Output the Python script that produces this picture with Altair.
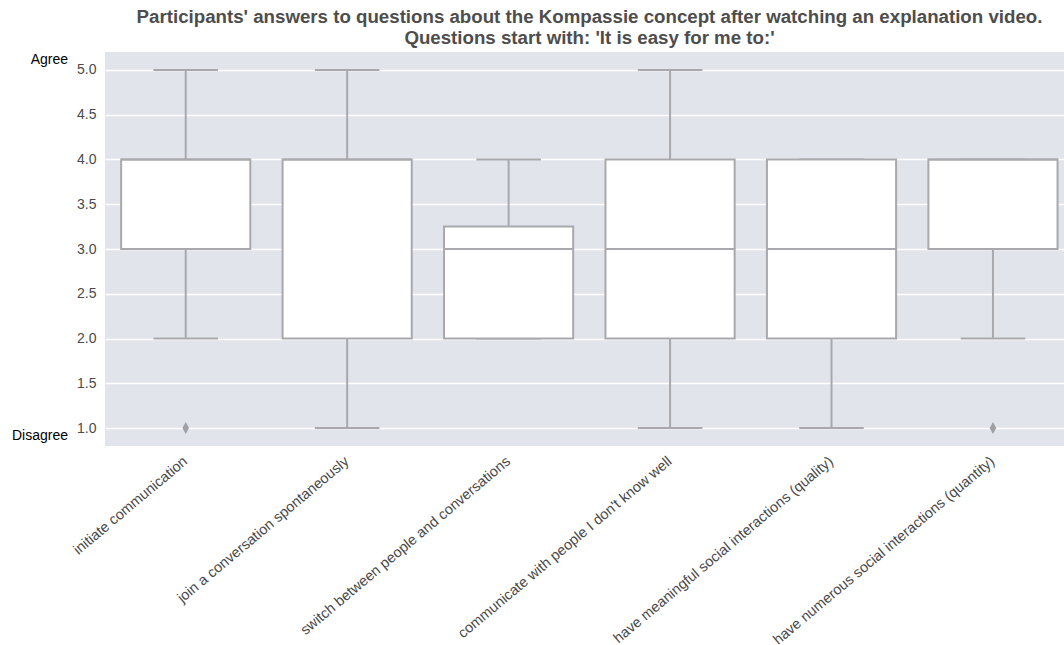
import altair as alt
import pandas as pd

# Questions (x categories)
categories = [
    "initiate communication",
    "join a conversation spontaneously",
    "switch between people and conversations",
    "communicate with people I don't know well",
    "have meaningful social interactions (quality)",
    "have numerous social interactions (quantity)",
]

# Box-plot summary per question (Likert 1-5)
q1 = [3.0, 2.0, 2.0, 2.0, 2.0, 3.0]
median = [4.0, 4.0, 3.0, 3.0, 3.0, 4.0]
q3 = [4.0, 4.0, 3.25, 4.0, 4.0, 4.0]
whisker_low = [2.0, 1.0, 2.0, 1.0, 1.0, 2.0]
whisker_high = [5.0, 5.0, 4.0, 5.0, 4.0, 4.0]

# Flier points: question index and value
outlier_question = [0, 5]
outlier_value = [1.0, 1.0]

y_ticks = [1.0, 1.5, 2.0, 2.5, 3.0, 3.5, 4.0, 4.5, 5.0]

BOX_HALF = 0.4
CAP_HALF = 0.2
LINE = "#a9a9ad"
FONT = "Liberation Sans"
TICK_COLOR = "#4a4a4a"

idx = list(range(len(categories)))
stats = pd.DataFrame({
    "i": idx,
    "question": categories,
    "q1": q1,
    "median": median,
    "q3": q3,
    "lo": whisker_low,
    "hi": whisker_high,
})
stats["box_l"] = stats["i"] - BOX_HALF
stats["box_r"] = stats["i"] + BOX_HALF
stats["cap_l"] = stats["i"] - CAP_HALF
stats["cap_r"] = stats["i"] + CAP_HALF

fliers = pd.DataFrame({"i": outlier_question, "value": outlier_value})
agree = pd.DataFrame({"label": ["Agree"], "value": [5.0]})
disagree = pd.DataFrame({"label": ["Disagree"], "value": [1.0]})

label_array = "[" + ",".join("'" + c.replace("'", "\\'") + "'" for c in categories) + "]"

x_scale = alt.Scale(domain=[-0.5, 5.44], nice=False, zero=False)
y_scale = alt.Scale(domain=[0.8, 5.2], nice=False, zero=False)

x_axis = alt.Axis(
    values=idx, labelExpr=label_array + "[datum.value]", title=None,
    labelAngle=-40, labelAlign="right", labelBaseline="top", labelPadding=8,
    labelOffset=-5, ticks=False, domain=False, grid=False, labelFontSize=14.5,
    labelColor=TICK_COLOR, labelFont=FONT, labelOverlap=False, labelLimit=0,
)
y_axis = alt.Axis(
    values=y_ticks, format=".1f", title=None, ticks=False, domain=False,
    grid=True, gridColor="white", gridWidth=1.5, labelFontSize=14,
    labelColor=TICK_COLOR, labelFont=FONT, labelPadding=9,
)

base = alt.Chart(stats)

whisk_low = base.mark_rule(color=LINE, strokeWidth=2).encode(
    x=alt.X("i:Q", scale=x_scale, axis=x_axis),
    y=alt.Y("lo:Q", scale=y_scale, axis=y_axis),
    y2="q1:Q",
)
whisk_high = base.mark_rule(color=LINE, strokeWidth=2).encode(
    x="i:Q", y="q3:Q", y2="hi:Q"
)
cap_low = base.mark_rule(color=LINE, strokeWidth=2).encode(
    x="cap_l:Q", x2="cap_r:Q", y="lo:Q"
)
cap_high = base.mark_rule(color=LINE, strokeWidth=2).encode(
    x="cap_l:Q", x2="cap_r:Q", y="hi:Q"
)
box = base.mark_rect(fill="white", stroke=LINE, strokeWidth=2).encode(
    x="box_l:Q", x2="box_r:Q", y="q1:Q", y2="q3:Q"
)
med = base.mark_rule(color=LINE, strokeWidth=2).encode(
    x="box_l:Q", x2="box_r:Q", y="median:Q"
)
flier = alt.Chart(fliers).mark_point(
    shape="M0,-1L0.55,0L0,1L-0.55,0Z", size=144, filled=True,
    color="#a0a0a4", opacity=1,
).encode(x="i:Q", y="value:Q")

agree_label = alt.Chart(agree).mark_text(
    align="right", baseline="middle", fontSize=14, font=FONT, color="black", dy=-10
).encode(x=alt.value(-37), y="value:Q", text="label:N")
disagree_label = alt.Chart(disagree).mark_text(
    align="right", baseline="middle", fontSize=14, font=FONT, color="black", dy=8
).encode(x=alt.value(-37), y="value:Q", text="label:N")

chart = alt.layer(
    whisk_low, whisk_high, cap_low, cap_high, box, med, flier,
    agree_label, disagree_label,
).properties(
    width=959,
    height=394,
    padding={"left": 105, "top": 52, "right": 0, "bottom": 199},
    autosize=alt.AutoSizeParams(type="none"),
    title=alt.Title(
        ["Participants' answers to questions about the Kompassie concept after watching an explanation video.",
         "Questions start with: 'It is easy for me to:'"],
        anchor="middle", dx=5, fontSize=18.7, font=FONT, fontWeight="bold",
        color="#4d4d4d", offset=4, lineHeight=21,
    ),
).configure(
    background="white"
).configure_view(
    fill="#e2e4eb", stroke=None
)

chart.save("out.html", embed_options={"renderer": "svg", "actions": False})
